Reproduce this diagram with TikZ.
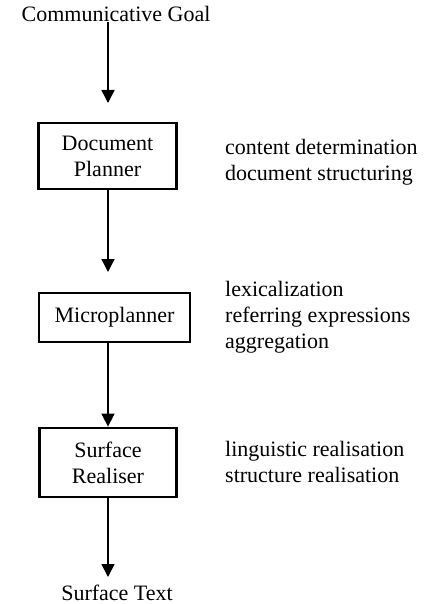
\documentclass[tikz,border=0pt]{standalone}
\usepackage{fontspec}
\setmainfont{Liberation Serif}
\usetikzlibrary{arrows.meta}
\begin{document}
\begin{tikzpicture}[x=1pt,y=1pt,
  every node/.style={font=\fontsize{22}{26}\selectfont},
  blk/.style={draw, line width=2.8pt, align=center, inner sep=0pt},
  lbl/.style={align=left, anchor=north west, inner sep=0pt},
  term/.style={anchor=base, inner sep=0pt},
  arr/.style={line width=1.5pt, -{Triangle[length=13pt,width=13pt]}}]
\useasboundingbox (0,0) rectangle (427,-604);
\fill[white] (0,0) rectangle (427,-604);

\node[term] (goal) at (116,-22) {Communicative Goal};
\node[blk, minimum width=138pt, minimum height=66pt] (dp) at (107.5,-156) {Document\\Planner};
\node[blk, minimum width=151pt, minimum height=49pt] (mp) at (114.5,-317.5) {Microplanner};
\node[blk, minimum width=137pt, minimum height=69pt] (sr) at (108,-462.5) {Surface\\Realiser};
\node[term] (out) at (117,-600) {Surface Text};

\node[lbl] (dpl) at (225,-139) {content determination\\document structuring};
\node[lbl] (mpl) at (225,-281) {lexicalization\\referring expressions\\aggregation};
\node[lbl] (srl) at (225,-441) {linguistic realisation\\structure realisation};

\coordinate (a1e) at (108,-103);
\coordinate (a2e) at (108,-272);
\coordinate (a4e) at (108,-577);

\draw[arr] (goal.base -| a1e) -- (a1e);
\draw[arr] (dp.south -| a2e) -- (a2e);
\draw[arr] (mp.south -| sr.north) -- (sr.north);
\draw[arr] (sr.south -| a4e) -- (a4e);
\end{tikzpicture}
\end{document}
